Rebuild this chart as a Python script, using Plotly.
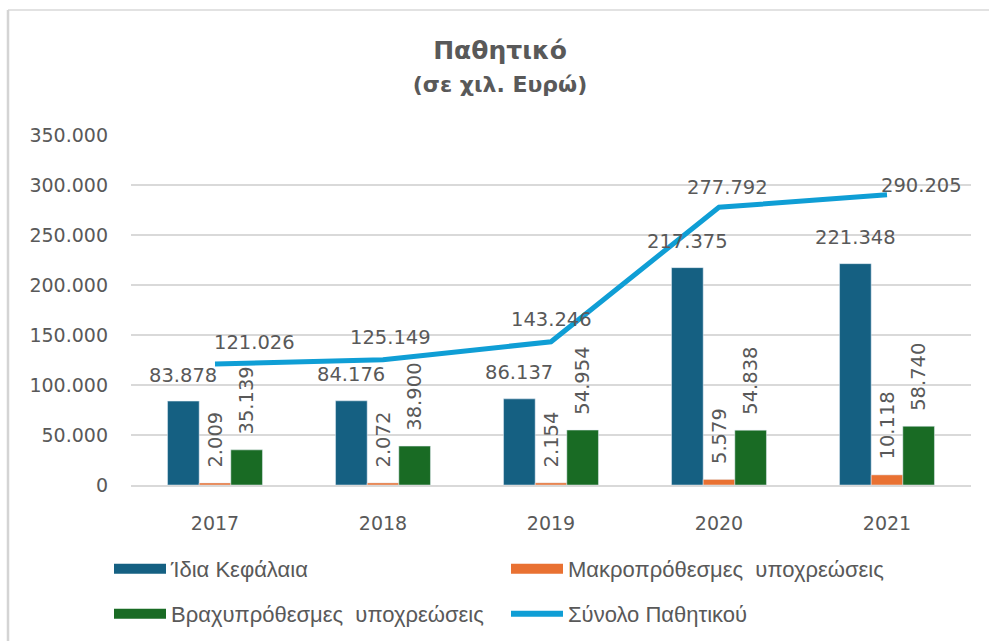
import plotly.graph_objects as go

years = ["2017", "2018", "2019", "2020", "2021"]
idia = [83878, 84176, 86137, 217375, 221348]
makro = [2009, 2072, 2154, 5579, 10118]
vraxy = [35139, 38900, 54954, 54838, 58740]
synolo = [121026, 125149, 143246, 277792, 290205]

names = ["Ίδια Κεφάλαια", "Μακροπρόθεσμες  υποχρεώσεις",
         "Βραχυπρόθεσμες  υποχρεώσεις", "Σύνολο Παθητικού"]
colors = ["#156082", "#E97132", "#196B24", "#0F9ED5"]

# label placement for the total line (pixel nudges, styling only)
tot_anchor = ["left", "center", "center", "center", "left"]
tot_dx = [-3, 7, 0, 8, -8]
tot_dy = [21, 22, 22, 20, 9]

GRAY = "#595959"
NUMFONT = dict(family="DejaVu Sans", size=19.5, color=GRAY)
TICKFONT = dict(family="DejaVu Sans", size=19, color=GRAY)
NB = "\u00a0\u00a0"


def fmt(v):
    return f"{v:,}".replace(",", ".")


W, H = 989, 641
ml, mr, mt, mb = 131, 18, 135, 156
pw, ph = W - ml - mr, H - mt - mb
bargap = 0.435
barw = pw / len(years) * (1 - bargap) / 3

fig = go.Figure()
fig.add_trace(go.Bar(x=years, y=idia, name=names[0], marker_color=colors[0],
                     showlegend=False, cliponaxis=False))
fig.add_trace(go.Bar(x=years, y=makro, name=names[1], marker_color=colors[1],
                     texttemplate=NB + "%{y:,d}", textposition="outside", textangle=-90,
                     textfont=NUMFONT, cliponaxis=False, showlegend=False))
fig.add_trace(go.Bar(x=years, y=vraxy, name=names[2], marker_color=colors[2],
                     texttemplate=NB + "%{y:,d}", textposition="outside", textangle=-90,
                     textfont=NUMFONT, cliponaxis=False, showlegend=False))
fig.add_trace(go.Scatter(x=years, y=synolo, name=names[3], mode="lines",
                         line=dict(color=colors[3], width=5),
                         cliponaxis=False, showlegend=False))

# legend-only entries (wide keys like the reference legend)
for i, (nm, c) in enumerate(zip(names, colors)):
    fig.add_trace(go.Scatter(x=[years[0]], y=[None], name=nm, mode="lines",
                             line=dict(color=c, width=6 if i == 3 else 13),
                             legend="legend" if i in (0, 1) else "legend2",
                             hoverinfo="skip"))

annotations = []
for i, v in enumerate(idia):
    annotations.append(dict(x=i, y=v, xref="x", yref="y", text=fmt(v),
                            showarrow=False, xshift=-barw, yshift=26,
                            xanchor="center", yanchor="middle", font=NUMFONT))
for i, (v, a, dx, dy) in enumerate(zip(synolo, tot_anchor, tot_dx, tot_dy)):
    annotations.append(dict(x=i, y=v, xref="x", yref="y", text=fmt(v),
                            showarrow=False, xshift=dx, yshift=dy,
                            xanchor=a, yanchor="middle", font=NUMFONT))

LEGFONT = dict(family="Liberation Sans", size=22, color=GRAY)
legcommon = dict(orientation="h", xref="container", yref="container",
                 x=109 / W, xanchor="left", yanchor="middle",
                 entrywidth=330, entrywidthmode="pixels", itemwidth=52,
                 font=LEGFONT, traceorder="normal", bgcolor="rgba(0,0,0,0)")

fig.update_layout(
    width=W, height=H,
    margin=dict(l=ml, r=mr, t=mt, b=mb, autoexpand=False),
    paper_bgcolor="white", plot_bgcolor="white",
    separators=",.",
    barmode="group", bargap=bargap, bargroupgap=0,
    font=dict(family="Liberation Sans", color=GRAY, size=18),
    title=dict(text="<b>Παθητικό</b><br><span style='font-size:22px'><b>(σε χιλ. Ευρώ)</b></span>",
               x=500 / W, xanchor="center", y=1 - 59 / H, yanchor="top",
               font=dict(family="DejaVu Sans", size=25, color=GRAY)),
    xaxis=dict(type="category", categoryorder="array", categoryarray=years,
               range=[-0.5, len(years) - 0.5], autorange=False,
               showgrid=False, showline=True, linecolor="#d9d9d9",
               linewidth=1.5, ticks="", tickfont=TICKFONT, ticklabelstandoff=20),
    yaxis=dict(range=[0, 350000], autorange=False, dtick=50000, tickformat=",d",
               showgrid=True, gridcolor="#d9d9d9", gridwidth=1.5,
               zeroline=False, showline=False, ticks="",
               tickfont=TICKFONT, ticklabelstandoff=22),
    legend=dict(y=1 - 569 / H, **legcommon),
    legend2=dict(y=1 - 614 / H, **legcommon),
    annotations=annotations,
    shapes=[
        dict(type="line", xref="paper", yref="paper",
             x0=(8 - ml) / pw, x1=(W + 5 - ml) / pw,
             y0=(H - mb - 10) / ph, y1=(H - mb - 10) / ph,
             line=dict(color="#d9d9d9", width=1.5), layer="below"),
        dict(type="line", xref="paper", yref="paper",
             x0=(8 - ml) / pw, x1=(8 - ml) / pw,
             y0=(H - mb - 10) / ph, y1=(H - mb - H - 5) / ph,
             line=dict(color="#d4d4d4", width=2.5), layer="below"),
    ],
)
fig.update_traces(selector=dict(type="bar"), constraintext="none")

fig.write_html("out.html", config={"displayModeBar": False},
               post_script="document.body.style.margin='0px';document.body.style.overflow='hidden';")
